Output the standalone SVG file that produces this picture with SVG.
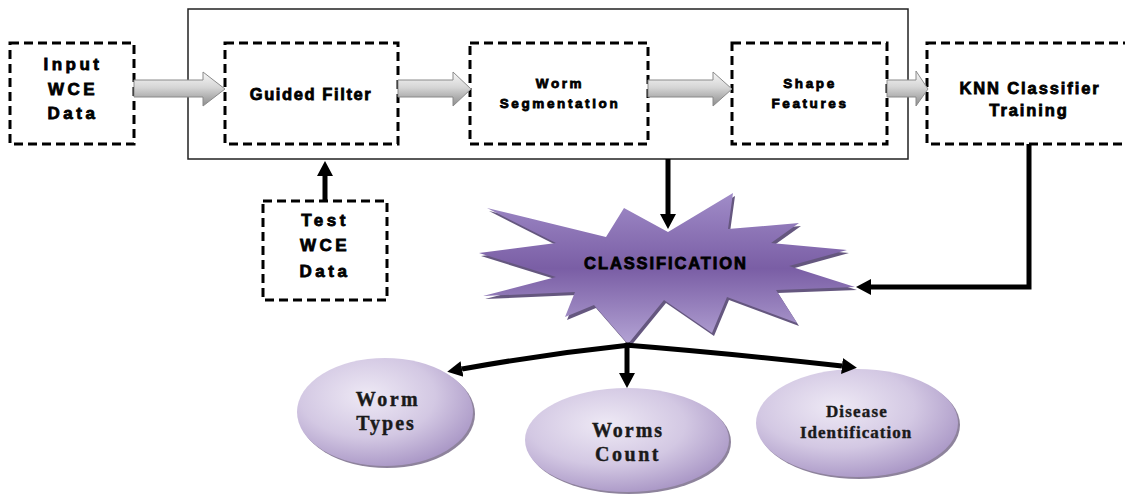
<svg xmlns="http://www.w3.org/2000/svg" width="1125" height="495" viewBox="0 0 1125 495">
<style>
.dash{fill:none;stroke:#000;stroke-width:3;stroke-dasharray:9,5}
.t{font-family:"Liberation Sans",Arial,sans-serif;font-weight:bold;fill:#000;stroke:#000;stroke-width:0.8;text-anchor:middle}
.s{font-family:"Liberation Serif","Times New Roman",serif;font-weight:bold;fill:#1a1a1a;stroke:#1a1a1a;stroke-width:0.4;text-anchor:middle}
.blk{fill:url(#gArrow);stroke:#8a8a8a;stroke-width:1}
.con{fill:none;stroke:#000;stroke-width:5}
</style>
<defs>
<linearGradient id="gArrow" x1="0" y1="0" x2="0" y2="1">
<stop offset="0" stop-color="#f7f7f7"/>
<stop offset="0.45" stop-color="#d6d6d6"/>
<stop offset="1" stop-color="#8c8c8c"/>
</linearGradient>
<linearGradient id="gStar" x1="0" y1="0" x2="0" y2="1">
<stop offset="0" stop-color="#a08cc8"/>
<stop offset="0.5" stop-color="#7a5ea5"/>
<stop offset="1" stop-color="#b3a3d4"/>
</linearGradient>
<radialGradient id="gEll" cx="0.4" cy="0.35" r="0.7">
<stop offset="0" stop-color="#eee9f5"/>
<stop offset="0.55" stop-color="#d3c8e3"/>
<stop offset="1" stop-color="#a794c4"/>
</radialGradient>
<marker id="ah" markerUnits="userSpaceOnUse" markerWidth="16" markerHeight="18" refX="0" refY="9" orient="auto">
<path d="M0,1 L15,9 L0,17 Z" fill="#000"/>
</marker>
</defs>

<rect id="outer" x="188" y="9" width="720" height="150" fill="none" stroke="#222" stroke-width="1.5"/>

<g id="input">
<rect class="dash" x="10" y="43" width="124" height="101"/>
<text class="t" font-size="17" letter-spacing="3.5" x="73" y="70">Input</text>
<text class="t" font-size="17" letter-spacing="3.5" x="73" y="95">WCE</text>
<text class="t" font-size="17" letter-spacing="3.5" x="73" y="119">Data</text>
</g>

<g id="guided">
<rect class="dash" x="225" y="43" width="173" height="101"/>
<text class="t" font-size="16.5" letter-spacing="1.6" x="311" y="100">Guided Filter</text>
</g>

<g id="worm">
<rect class="dash" x="470" y="43" width="178" height="101"/>
<text class="t" font-size="13.5" letter-spacing="2.6" x="560" y="88">Worm</text>
<text class="t" font-size="13.5" letter-spacing="2.6" x="560" y="108">Segmentation</text>
</g>

<g id="shape">
<rect class="dash" x="732" y="43" width="155" height="101"/>
<text class="t" font-size="13.5" letter-spacing="2.6" x="810" y="88">Shape</text>
<text class="t" font-size="13.5" letter-spacing="2.6" x="810" y="108">Features</text>
</g>

<g id="knn">
<rect class="dash" x="927" y="43" width="215" height="101"/>
<text class="t" font-size="16.5" letter-spacing="1.9" x="1030" y="94">KNN Classifier</text>
<text class="t" font-size="16.5" letter-spacing="1.9" x="1029" y="116">Training</text>
</g>

<g id="test">
<rect class="dash" x="263" y="201" width="124" height="99"/>
<text class="t" font-size="17" letter-spacing="3.5" x="325" y="226">Test</text>
<text class="t" font-size="17" letter-spacing="3.5" x="325" y="251">WCE</text>
<text class="t" font-size="17" letter-spacing="3.5" x="325" y="277">Data</text>
</g>

<g id="classification">
<polygon fill="#4a3a68" opacity="0.85" transform="translate(2,3)" points="487,208 606,237 624,208 668,232 733,193 728,229 799,223 771,243 847,250 789,266 855,287 776,290 797,323 727,297 712,333 664,300 628,344 594,305 565,317 575,292 483,296 556,277 479,253 556,243"/>
<polygon fill="url(#gStar)" points="487,208 606,237 624,208 668,232 733,193 728,229 799,223 771,243 847,250 789,266 855,287 776,290 797,323 727,297 712,333 664,300 628,344 594,305 565,317 575,292 483,296 556,277 479,253 556,243"/>
<text class="t" font-size="16.5" letter-spacing="1.9" x="666" y="269">CLASSIFICATION</text>
</g>

<g id="wormtypes">
<ellipse cx="387" cy="414" rx="88" ry="54" fill="#5e4e72" opacity="0.7"/>
<ellipse cx="385" cy="412" rx="88" ry="54" fill="url(#gEll)"/>
<text class="s" font-size="20" letter-spacing="2.5" x="388" y="406">Worm</text>
<text class="s" font-size="20" letter-spacing="2" x="386" y="430">Types</text>
</g>

<g id="wormscount">
<ellipse cx="629" cy="442" rx="102" ry="52" fill="#5e4e72" opacity="0.7"/>
<ellipse cx="627" cy="440" rx="102" ry="52" fill="url(#gEll)"/>
<text class="s" font-size="20" letter-spacing="2" x="628" y="437">Worms</text>
<text class="s" font-size="20" letter-spacing="2.5" x="628" y="461">Count</text>
</g>

<g id="disease">
<ellipse cx="859" cy="425" rx="101" ry="54" fill="#5e4e72" opacity="0.7"/>
<ellipse cx="857" cy="423" rx="101" ry="54" fill="url(#gEll)"/>
<text class="s" font-size="17" letter-spacing="1.2" x="857" y="417">Disease</text>
<text class="s" font-size="17" letter-spacing="1" x="856" y="438">Identification</text>
</g>

<g id="connectors">
<path class="blk" d="M134,80 H203 V72 L225,89 L203,106 V97 H134 Z"/>
<path class="blk" d="M398,80 H453 V72 L471,89 L453,106 V97 H398 Z"/>
<path class="blk" d="M648,80 H713 V72 L732,89 L713,106 V97 H648 Z"/>
<path class="blk" d="M887,80 H916 V71 L928,89 L916,106 V97 H887 Z"/>
<path class="con" stroke-width="7" d="M325,201 V176" marker-end="url(#ah)"/>
<path class="con" d="M668,159 V214" marker-end="url(#ah)"/>
<path class="con" d="M1029,144 V287 H871" marker-end="url(#ah)"/>
<path class="con" d="M627,343 V373" marker-end="url(#ah)"/>
<path class="con" d="M630,345 Q545,354 462,369" marker-end="url(#ah)"/>
<path class="con" d="M625,345 Q725,353 842,366" marker-end="url(#ah)"/>
</g>
</svg>
